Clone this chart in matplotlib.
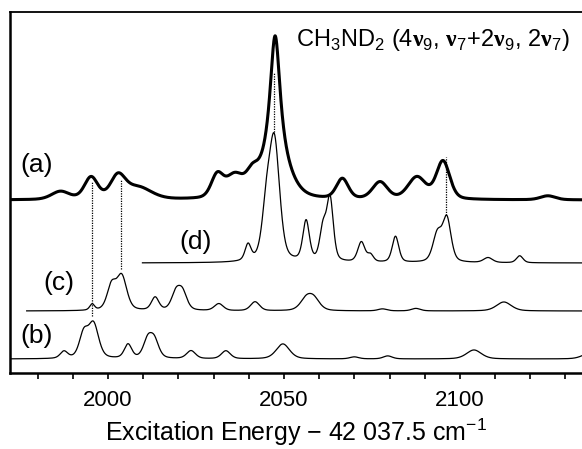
import matplotlib.pyplot as plt
import numpy as np

plt.rcParams['font.family'] = ['Liberation Sans', 'DejaVu Sans']
plt.rcParams['mathtext.fontset'] = 'custom'
plt.rcParams['mathtext.rm'] = 'Liberation Sans'
plt.rcParams['mathtext.bf'] = 'Liberation Serif:bold'

# peak lists per trace: centre (cm-1), height, FWHM (and Lorentz fraction for (a))
a_pos = [1986.5, 1995.2, 2002.8, 2008.5, 2031.0, 2036.0, 2041.0, 2047.5, 2047.5,
         2066.6, 2077.3, 2087.8, 2095.2, 2125.0]
a_amp = [8.0, 22.0, 22.0, 12.0, 22.0, 22.0, 16.0, 28.0, 135.0,
         20.0, 17.0, 22.0, 38.0, 4.0]
a_wid = [6.0, 4.5, 5.0, 9.0, 4.0, 6.0, 4.0, 9.0, 3.6,
         4.0, 5.0, 6.0, 4.5, 5.0]
a_eta = [0.3, 0.3, 0.3, 0.3, 0.3, 0.3, 0.3, 0.0, 1.0,
         0.3, 0.3, 0.3, 0.3, 0.3]
a_base = 173.0

d_pos = [2039.8, 2045.0, 2047.3, 2056.3, 2061.1, 2063.1, 2072.0, 2074.6, 2081.7, 2093.6, 2096.3, 2108.0, 2117.0]
d_amp = [16.0, 45.0, 118.0, 40.0, 32.0, 62.0, 20.0, 7.0, 26.0, 28.0, 43.0, 5.0, 7.0]
d_wid = [2.0, 3.0, 3.5, 2.2, 2.2, 2.2, 2.4, 2.0, 2.2, 3.0, 2.8, 3.0, 2.2]
d_base = 110.0

c_pos = [1995.5, 2001.0, 2003.9, 2013.4, 2019.3, 2021.2, 2031.5, 2041.8, 2056.3, 2058.5, 2078.0, 2087.5, 2112.5]
c_amp = [6.0, 24.0, 34.0, 13.0, 17.0, 17.0, 7.0, 9.0, 11.0, 11.0, 2.0, 2.5, 9.0]
c_wid = [1.6, 3.0, 3.4, 2.5, 3.0, 3.0, 3.0, 3.0, 4.0, 4.0, 3.0, 3.0, 5.0]
c_base = 62.0

b_pos = [1987.5, 1993.1, 1995.9, 2005.7, 2011.3, 2013.2, 2023.6, 2033.5, 2049.7, 2070.0, 2079.5, 2104.0, 2137.0]
b_amp = [7.0, 24.0, 34.0, 14.0, 18.0, 17.0, 8.0, 8.0, 15.0, 2.0, 3.0, 9.0, 6.0]
b_wid = [2.5, 3.0, 3.4, 2.5, 3.0, 3.0, 3.0, 3.0, 4.5, 3.0, 3.0, 5.0, 5.0]
b_base = 14.0

# where each trace begins
a_start, d_start, c_start, b_start = 1972.2, 2009.8, 1976.9, 1972.2
x_end = 2134.7

# dotted connectors: x, lower end, upper end
links_x = [1995.6, 2003.6, 2047.3, 2096.0]
links_lo = [57.0, 104.0, 241.0, 158.0]
links_hi = [192.0, 193.0, 300.0, 216.0]


def spectrum(x, pos, amp, fwhm, base, eta=0.4):
    # pseudo-Voigt line shapes on a flat baseline
    etas = np.broadcast_to(eta, len(pos))
    y = np.full_like(x, base)
    for p, h, w, e in zip(pos, amp, fwhm, etas):
        hw = w / 2.0
        lor = hw**2 / ((x - p)**2 + hw**2)
        gau = np.exp(-np.log(2) * ((x - p) / hw)**2)
        y += h * (e * lor + (1 - e) * gau)
    return y


fig = plt.figure(figsize=(5.82, 4.49), dpi=100)
ax = fig.add_axes([10 / 582, 76 / 449, 572 / 582, 361 / 449])

xa = np.linspace(a_start, x_end, 3000)
ax.plot(xa, spectrum(xa, a_pos, a_amp, a_wid, a_base, eta=a_eta), color='black', lw=2.2)
xd = np.linspace(d_start, x_end, 3000)
ax.plot(xd, spectrum(xd, d_pos, d_amp, d_wid, d_base), color='black', lw=0.9)
xc = np.linspace(c_start, x_end, 3000)
ax.plot(xc, spectrum(xc, c_pos, c_amp, c_wid, c_base), color='black', lw=0.9)
xb = np.linspace(b_start, x_end, 3000)
ax.plot(xb, spectrum(xb, b_pos, b_amp, b_wid, b_base), color='black', lw=0.9)

for x, lo, hi in zip(links_x, links_lo, links_hi):
    ax.plot([x, x], [lo, hi], color='black', ls=(0, (1, 1)), lw=0.9)

ax.text(1979.8, 208, '(a)', fontsize=19, ha='center', va='center')
ax.text(2025.0, 131, '(d)', fontsize=19, ha='center', va='center')
ax.text(1986.1, 90, '(c)', fontsize=19, ha='center', va='center')
ax.text(1979.8, 37, '(b)', fontsize=19, ha='center', va='center')
ax.text(2092.3, 333, r'CH$_3$ND$_2$ (4$\mathbf{\nu}_9$, $\mathbf{\nu}_7$+2$\mathbf{\nu}_9$, 2$\mathbf{\nu}_7$)',
        fontsize=17, ha='center', va='center')

ax.set_xlim(1972.16, x_end)
ax.set_ylim(0, 361)
ax.set_xticks([2000, 2050, 2100])
ax.set_xticks(np.arange(1980, 2135, 10), minor=True)
ax.tick_params(axis='x', which='both', direction='out', length=4, width=1.2, labelsize=16, pad=8)
ax.set_yticks([])
ax.spines['right'].set_visible(False)
for s in ['left', 'bottom']:
    ax.spines[s].set_linewidth(1.8)
ax.spines['top'].set_linewidth(1.3)
ax.set_xlabel('Excitation Energy \u2212 42 037.5 cm$^{-1}$', fontsize=18, labelpad=4)

fig.savefig('out.png', dpi=100)
